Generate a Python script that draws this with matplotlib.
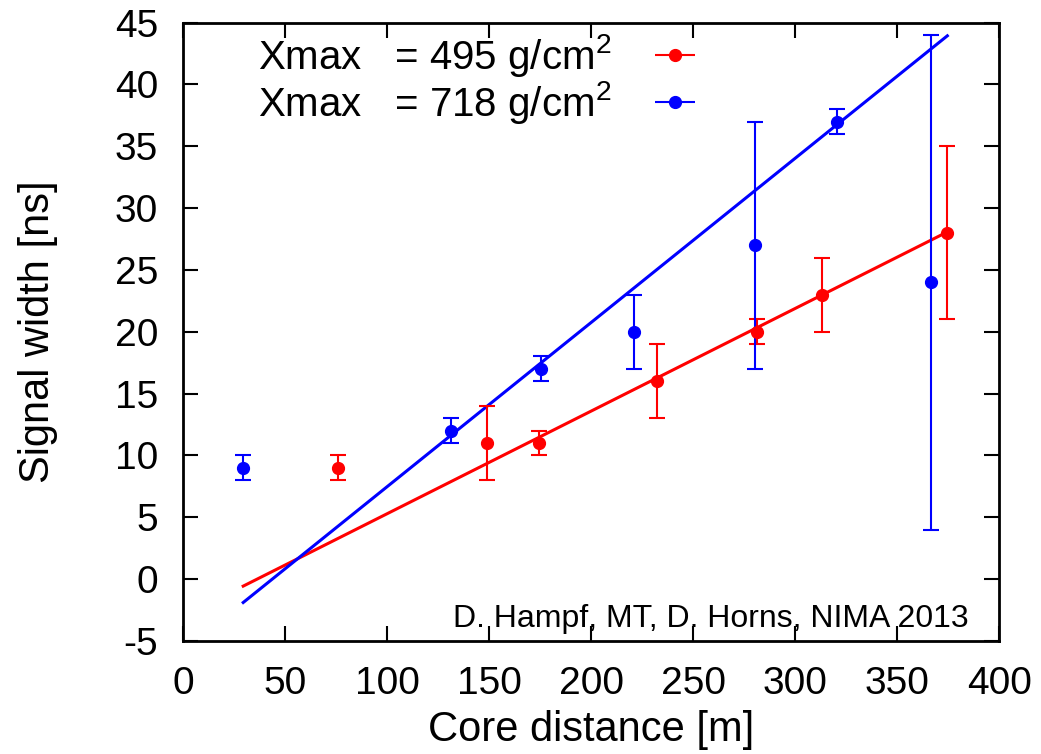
import numpy as np
import matplotlib
matplotlib.use("Agg")
import matplotlib.pyplot as plt

plt.rcParams['font.family'] = ['Liberation Sans', 'DejaVu Sans']
plt.rcParams['mathtext.fontset'] = 'custom'
plt.rcParams['mathtext.rm'] = 'Liberation Sans'
plt.rcParams['mathtext.it'] = 'Liberation Sans'
plt.rcParams['axes.unicode_minus'] = False

# signal width vs. core distance, two shower depths
x_495 = [76, 149, 174.5, 232, 281, 313, 374.5]
y_495 = [9, 11, 11, 16, 20, 23, 28]
err_495 = [1, 3, 1, 3, 1, 3, 7]

x_718 = [29.4, 131, 175.5, 221, 280, 320.6, 366.7]
y_718 = [9, 12, 17, 20, 27, 37, 24]
err_718 = [1, 1, 1, 3, 10, 1, 20]

# linear fits (slope in ns/m, intercept in ns)
fit_495 = (0.083, -3.01)
fit_718 = (0.1328, -5.8)

RED = '#ff0000'
BLUE = '#0000ff'

fig = plt.figure(figsize=(10.41, 7.54), dpi=100)
ax = fig.add_axes([0.176, 0.150, 0.784, 0.820])

x_all = np.array(x_495 + x_718)
xf = np.array([x_all.min(), x_all.max()])
ax.plot(xf, fit_495[0] * xf + fit_495[1], color=RED, lw=2.2, zorder=2)
ax.plot(xf, fit_718[0] * xf + fit_718[1], color=BLUE, lw=2.2, zorder=2)

ebkw = dict(fmt='o', ms=8.5, capsize=5.8, elinewidth=1.5, capthick=1.5, zorder=3)
ax.errorbar(x_495, y_495, yerr=err_495, color=RED, **ebkw)
ax.errorbar(x_718, y_718, yerr=err_718, color=BLUE, **ebkw)

# legend handles: horizontal bars with caps, gnuplot style
h1 = ax.errorbar([], [], xerr=[], color=RED, **ebkw)
h2 = ax.errorbar([], [], xerr=[], color=BLUE, **ebkw)
ax.legend([h1, h2],
          ['Xmax   = 495 g/cm$^2$', 'Xmax   = 718 g/cm$^2$'],
          loc='upper left', bbox_to_anchor=(0.092, 0.985),
          frameon=False, markerfirst=False, fontsize=29,
          handlelength=1.15, handletextpad=1.0, labelspacing=0.0,
          borderpad=0, borderaxespad=0)

ax.text(0.962, 0.0227, 'D. Hampf, MT, D. Horns, NIMA 2013',
        transform=ax.transAxes, ha='right', va='baseline', fontsize=23)

ax.set_xlim(0, 400)
ax.set_ylim(-5, 45)
ax.set_xticks(np.arange(0, 401, 50))
ax.set_yticks(np.arange(-5, 46, 5))
ax.tick_params(direction='in', length=10.8, width=1.5, top=True, right=True,
               labelsize=28, pad=18)
for s in ax.spines.values():
    s.set_linewidth(2)

ax.set_xlabel('Core distance [m]', fontsize=30, labelpad=6)
ax.set_ylabel('Signal width [ns]', fontsize=30, labelpad=41)

fig.savefig('out.png', dpi=100)
